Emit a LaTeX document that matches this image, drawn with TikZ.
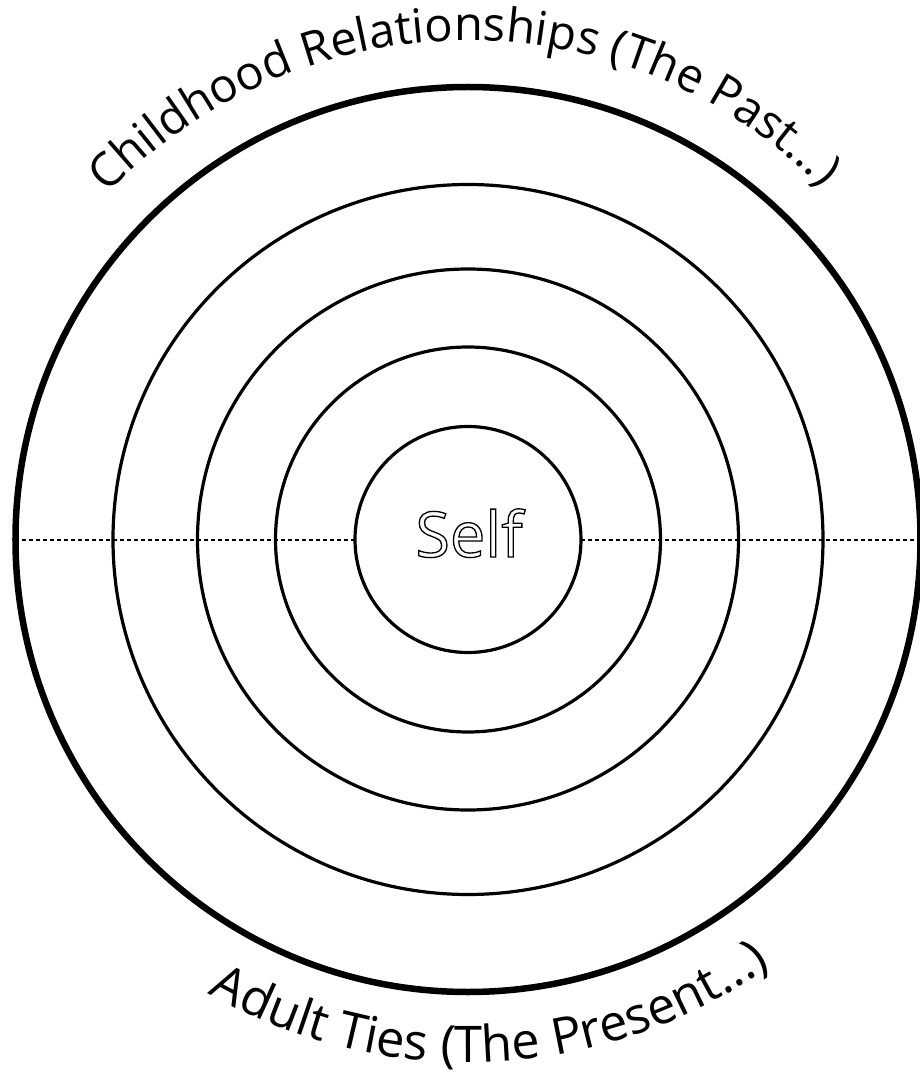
\documentclass[tikz,border=0pt]{standalone}
\usepackage{fontspec}
\setmainfont{Open Sans}
\usepackage{tikz}
\usetikzlibrary{decorations.text}
\newcommand{\topfont}{\fontsize{47}{47}\selectfont}
\newcommand{\lowfont}{\fontsize{50.5}{50.5}\selectfont}
\newcommand{\hollow}[1]{\special{pdf:literal direct 1 Tr 1.3 w}#1\special{pdf:literal direct 0 Tr}}

\begin{document}
\begin{tikzpicture}[x=1pt, y=1pt,
    ring/.style={draw, circle, line width=3.2pt, inner sep=0pt, outer sep=0pt}]
    \useasboundingbox (-468,-534.5) rectangle (451,539.5);
    % rings
    \node[ring, line width=6.5pt, minimum size=905pt] (outer) at (0,0) {};
    \node[ring, minimum size=710pt] (ringD) at (0,0) {};
    \node[ring, minimum size=541pt] (ringC) at (0,0) {};
    \node[ring, minimum size=385pt] (ringB) at (0,0) {};
    \node[ring, minimum size=226pt] (self) at (0,0) {};
    \node[anchor=base, font=\fontsize{63}{63}\selectfont, inner sep=0pt] (selflabel) at (1,-17.5) {\hollow{Self}};

    % horizontal divider
    \draw[line width=2pt, dash pattern=on 4pt off 3pt] (outer.west) -- (self.west);
    \draw[line width=2pt, dash pattern=on 4pt off 3pt] (self.east) -- (outer.east);

    % labels along the rim
    \path[decorate, decoration={text along path, text align=center,
        text={|\topfont|Childhood Relationships (The Past...)}}]
        (150.5:499) arc[start angle=150.5, end angle=30.5, radius=499];
    \path[decorate, decoration={text along path, text align=center,
        text={|\lowfont|Adult Ties (The Present...)}}]
        (222.8:523) arc[start angle=222.8, end angle=322.8, radius=523];
\end{tikzpicture}
\end{document}
